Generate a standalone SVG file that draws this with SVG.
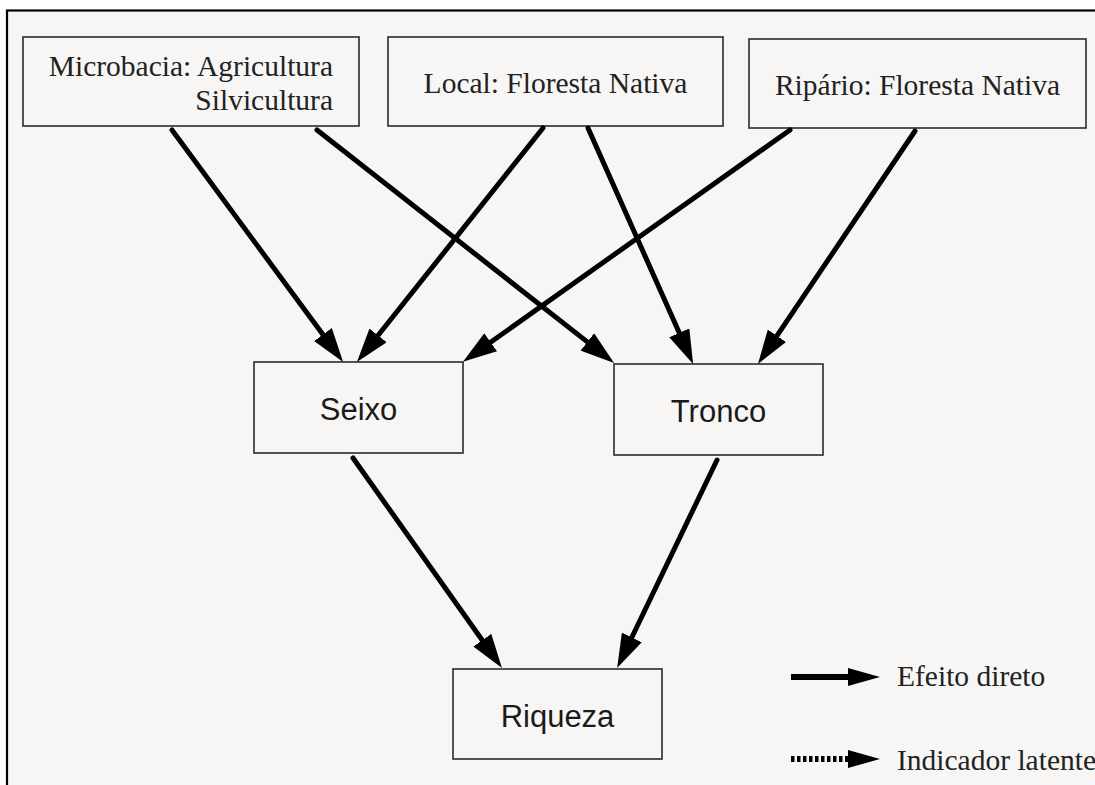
<svg xmlns="http://www.w3.org/2000/svg" width="1095" height="785" viewBox="0 0 1095 785">
<defs>
<marker id="ah" viewBox="0 0 34 22" markerWidth="34" markerHeight="22" refX="4" refY="11" orient="auto" markerUnits="userSpaceOnUse">
<path d="M0,0 L34,11 L0,22 z" fill="#000"/>
</marker>
<marker id="ahs" viewBox="0 0 32 18" markerWidth="32" markerHeight="18" refX="0" refY="9" orient="auto" markerUnits="userSpaceOnUse">
<path d="M0,0 L32,9 L0,18 z" fill="#000"/>
</marker>
</defs>
<style>
.box{fill:#f7f6f4;stroke:#2b2b2b;stroke-width:1.6}
.serif{font-family:"Liberation Serif","Times New Roman",serif;font-size:29.5px;fill:#222}
.sans{font-family:"Liberation Sans",Arial,sans-serif;font-size:31px;fill:#1a1a1a}
.arr{stroke:#000;stroke-width:5;fill:none;stroke-linecap:round;marker-end:url(#ah)}
.leg{stroke:#000;stroke-width:6;fill:none;marker-end:url(#ahs)}
</style>
<rect x="0" y="0" width="1095" height="785" fill="#ffffff"/>
<rect x="7" y="10.5" width="1100" height="790" fill="#f7f6f4" stroke="#000" stroke-width="2.2"/>
<g id="node-microbacia">
<rect class="box" x="23" y="37" width="336" height="89"/>
<text class="serif" x="333" y="76" text-anchor="end">Microbacia: Agricultura</text>
<text class="serif" x="333" y="110" text-anchor="end">Silvicultura</text>
</g>
<g id="node-local">
<rect class="box" x="388" y="37" width="335" height="89"/>
<text class="serif" x="555.5" y="93" text-anchor="middle">Local: Floresta Nativa</text>
</g>
<g id="node-ripario">
<rect class="box" x="749" y="39" width="337" height="89"/>
<text class="serif" x="917.5" y="95" text-anchor="middle">Ripário: Floresta Nativa</text>
</g>
<g id="node-seixo">
<rect class="box" x="254" y="362" width="209" height="91"/>
<text class="sans" x="358.5" y="420" text-anchor="middle">Seixo</text>
</g>
<g id="node-tronco">
<rect class="box" x="614" y="364" width="209" height="91"/>
<text class="sans" x="718.5" y="422" text-anchor="middle">Tronco</text>
</g>
<g id="node-riqueza">
<rect class="box" x="453" y="669" width="209" height="90"/>
<text class="sans" x="557.5" y="727" text-anchor="middle">Riqueza</text>
</g>
<g id="connectors">
<line class="arr" x1="172" y1="130" x2="325.3" y2="337.8"/>
<line class="arr" x1="317" y1="130" x2="590.5" y2="344.4"/>
<line class="arr" x1="543" y1="128" x2="375.6" y2="338.5"/>
<line class="arr" x1="588" y1="128" x2="680.9" y2="336.5"/>
<line class="arr" x1="790" y1="130" x2="487.4" y2="344.5"/>
<line class="arr" x1="915" y1="131" x2="774.7" y2="339.1"/>
<line class="arr" x1="353" y1="458" x2="484.6" y2="643.5"/>
<line class="arr" x1="717" y1="460" x2="630.1" y2="641"/>
</g>
<g id="legend">
<line class="leg" x1="791" y1="677" x2="848" y2="677"/>
<text class="serif" x="897" y="686">Efeito direto</text>
<line class="leg" x1="791" y1="759" x2="848" y2="759" stroke-dasharray="3.5 2.5"/>
<text class="serif" x="897" y="770">Indicador latente</text>
</g>
</svg>
